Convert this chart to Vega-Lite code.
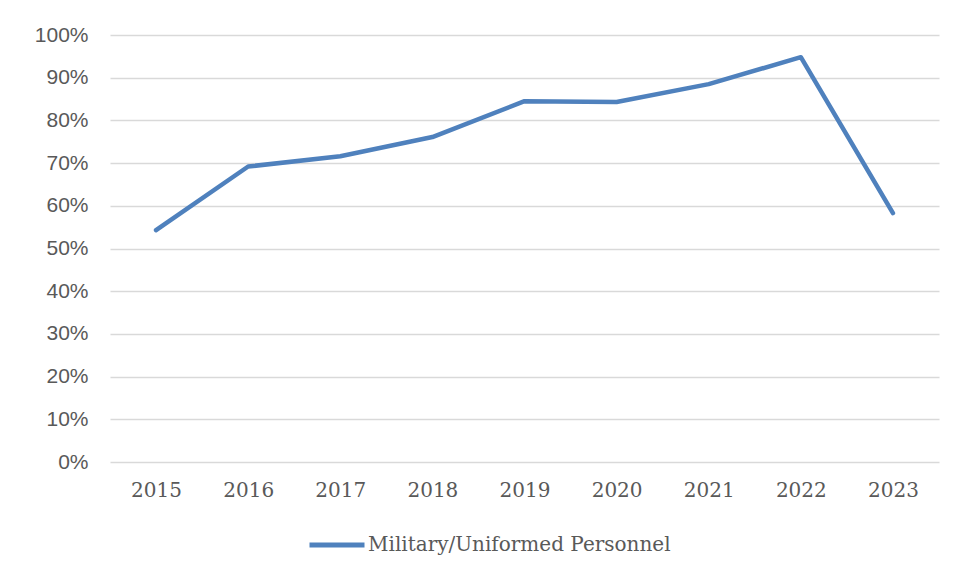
{
  "$schema": "https://vega.github.io/schema/vega-lite/v6.json",
  "width": 829,
  "height": 427,
  "autosize": {"type": "none"},
  "padding": {"left": 110, "top": 35, "right": 15, "bottom": 113},
  "background": "white",
  "data": {
    "values": [
      {"year": "2015", "value": 0.543, "series": "Military/Uniformed Personnel"},
      {"year": "2016", "value": 0.692, "series": "Military/Uniformed Personnel"},
      {"year": "2017", "value": 0.716, "series": "Military/Uniformed Personnel"},
      {"year": "2018", "value": 0.761, "series": "Military/Uniformed Personnel"},
      {"year": "2019", "value": 0.845, "series": "Military/Uniformed Personnel"},
      {"year": "2020", "value": 0.843, "series": "Military/Uniformed Personnel"},
      {"year": "2021", "value": 0.885, "series": "Military/Uniformed Personnel"},
      {"year": "2022", "value": 0.948, "series": "Military/Uniformed Personnel"},
      {"year": "2023", "value": 0.583, "series": "Military/Uniformed Personnel"}
    ]
  },
  "mark": {"type": "line", "strokeWidth": 4.5, "strokeCap": "round", "strokeJoin": "round"},
  "encoding": {
    "x": {
      "field": "year",
      "type": "ordinal",
      "scale": {"type": "point", "padding": 0.5},
      "axis": {
        "title": null,
        "labelAngle": 0,
        "ticks": false,
        "domain": false,
        "grid": false,
        "labelFont": "DejaVu Serif",
        "labelFontSize": 20,
        "labelColor": "#595959",
        "labelPadding": 18
      }
    },
    "y": {
      "field": "value",
      "type": "quantitative",
      "scale": {"domain": [0, 1], "nice": false},
      "axis": {
        "title": null,
        "format": ".0%",
        "values": [0, 0.1, 0.2, 0.3, 0.4, 0.5, 0.6, 0.7, 0.8, 0.9, 1],
        "ticks": false,
        "domain": false,
        "grid": true,
        "gridColor": "#D9D9D9",
        "gridWidth": 1.5,
        "labelFont": "Liberation Sans",
        "labelFontSize": 21,
        "labelColor": "#595959",
        "labelPadding": 22
      }
    },
    "color": {
      "field": "series",
      "type": "nominal",
      "scale": {"range": ["#4F81BD"]},
      "legend": {
        "title": null,
        "orient": "none",
        "legendX": 197,
        "legendY": 480,
        "symbolType": "stroke",
        "symbolSize": 3025,
        "symbolStrokeWidth": 5,
        "labelFont": "DejaVu Serif",
        "labelFontSize": 20,
        "labelLimit": 0,
        "labelColor": "#595959",
        "labelOffset": 1
      }
    }
  },
  "config": {
    "view": {"stroke": null}
  }
}
